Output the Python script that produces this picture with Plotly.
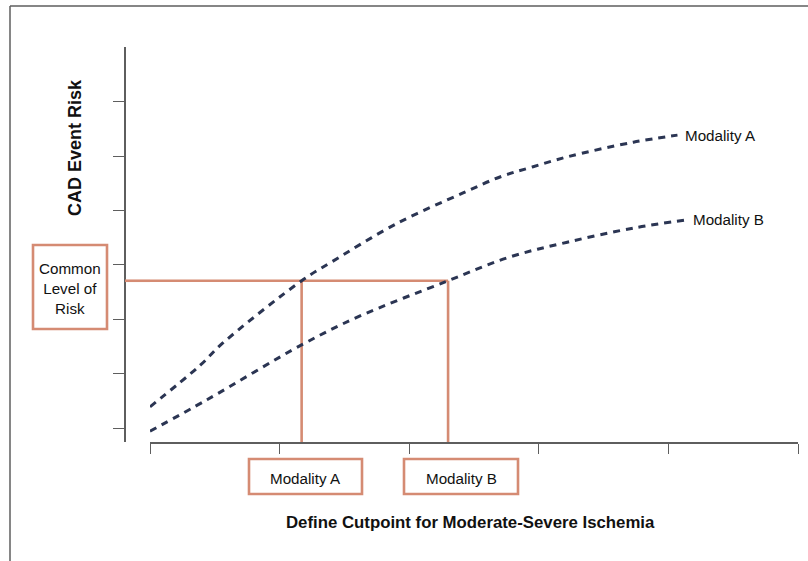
import plotly.graph_objects as go

# ---- data ----
x_a = [0.0, 0.39, 0.56, 1.17, 1.39, 1.91, 2.42, 2.70, 2.93, 3.22, 3.73, 4.07]
risk_a = [0.39, 1.16, 1.56, 2.71, 3.04, 3.77, 4.33, 4.62, 4.79, 4.99, 5.26, 5.39]
x_b = [0.0, 0.44, 1.17, 1.60, 2.30, 2.78, 3.22, 3.73, 4.14]
risk_b = [-0.06, 0.52, 1.53, 2.04, 2.71, 3.15, 3.42, 3.68, 3.83]
common_risk = 2.71
cut_a = 1.17
cut_b = 2.30
x_ticks = [0, 1, 2, 3, 4, 5]
y_ticks = [0, 1, 2, 3, 4, 5, 6]
series_names = ["Modality A", "Modality B"]

# ---- layout geometry (pixels) ----
W, H = 808, 561
L, R, T, B = 125, 798, 47, 442
PW, PH = R - L, B - T
X_DOMAIN0 = (150 - L) / PW
Y_MIN, Y_MAX = -0.2577, 7.012

def px(p):
    return (p - L) / PW

def py(p):
    return (B - p) / PH

NAVY = "#2b3553"
ORANGE = "#d58b73"
GRAY = "#5e5e5e"
FONT = "Liberation Sans, Arial, Helvetica, sans-serif"
LBL = 15.2

fig = go.Figure()

# cutpoint guide lines (under the curves)
fig.add_trace(go.Scatter(
    x=[0, cut_b, None, cut_a, cut_a, None, cut_b, cut_b],
    y=[common_risk, common_risk, None, common_risk, Y_MIN, None, common_risk, Y_MIN],
    mode="lines", line=dict(color=ORANGE, width=2.6), hoverinfo="skip", showlegend=False))

fig.add_trace(go.Scatter(x=x_a, y=risk_a, mode="lines", name=series_names[0],
                         line=dict(color=NAVY, width=3, dash="7px,6px", shape="spline"),
                         showlegend=False))
fig.add_trace(go.Scatter(x=x_b, y=risk_b, mode="lines", name=series_names[1],
                         line=dict(color=NAVY, width=3, dash="7px,6px", shape="spline"),
                         showlegend=False))

shapes = []
# the part of the common-risk line between the y axis and the x axis start
shapes.append(dict(type="line", xref="paper", yref="y", x0=0, x1=X_DOMAIN0,
                   y0=common_risk, y1=common_risk, line=dict(color=ORANGE, width=2.6)))
# outer frame
shapes.append(dict(type="line", xref="paper", yref="paper", x0=px(10), x1=px(10),
                   y0=py(6), y1=py(570), line=dict(color=GRAY, width=1.5)))
shapes.append(dict(type="line", xref="paper", yref="paper", x0=px(10), x1=px(815),
                   y0=py(6), y1=py(6), line=dict(color=GRAY, width=1.5)))
# label boxes
for (x0, x1, y0, y1) in [(33, 107, 245, 329), (249, 362, 459, 494), (404, 518, 459, 494)]:
    shapes.append(dict(type="rect", xref="paper", yref="paper", x0=px(x0), x1=px(x1),
                       y0=py(y1), y1=py(y0), line=dict(color=ORANGE, width=2.6),
                       fillcolor="rgba(0,0,0,0)"))

annotations = [
    dict(text="Common<br>Level of<br>Risk", x=px(70), y=py(288), xref="paper", yref="paper",
         showarrow=False, xanchor="center", yanchor="middle",
         font=dict(family=FONT, size=LBL, color="#111")),
    dict(text=series_names[0], x=px(305.5), y=py(478), xref="paper", yref="paper",
         showarrow=False, xanchor="center", yanchor="middle",
         font=dict(family=FONT, size=LBL, color="#111")),
    dict(text=series_names[1], x=px(461), y=py(478), xref="paper", yref="paper",
         showarrow=False, xanchor="center", yanchor="middle",
         font=dict(family=FONT, size=LBL, color="#111")),
    dict(text=series_names[0], x=x_a[-1], y=risk_a[-1], xref="x", yref="y",
         showarrow=False, xanchor="left", yanchor="middle", xshift=6,
         font=dict(family=FONT, size=LBL, color="#111")),
    dict(text=series_names[1], x=x_b[-1], y=risk_b[-1], xref="x", yref="y",
         showarrow=False, xanchor="left", yanchor="middle", xshift=4,
         font=dict(family=FONT, size=LBL, color="#111")),
    dict(text="<b>Define Cutpoint for Moderate-Severe Ischemia</b>", x=px(471), y=py(522),
         xref="paper", yref="paper", showarrow=False, xanchor="center", yanchor="middle",
         font=dict(family=FONT, size=16.8, color="#111")),
    dict(text="<b>CAD Event Risk</b>", x=px(75), y=py(148), xref="paper", yref="paper",
         showarrow=False, xanchor="center", yanchor="middle", textangle=-90,
         font=dict(family=FONT, size=18, color="#111")),
]

fig.update_layout(
    width=W, height=H,
    margin=dict(l=L, r=W - R, t=T, b=H - B, pad=0),
    paper_bgcolor="white", plot_bgcolor="white",
    showlegend=False,
    shapes=shapes, annotations=annotations,
    xaxis=dict(domain=[X_DOMAIN0, 1], range=[0, 5], tickvals=x_ticks, showticklabels=False,
               ticks="outside", ticklen=10, tickwidth=1.3, tickcolor=GRAY,
               showline=True, linecolor=GRAY, linewidth=1.5, showgrid=False, zeroline=False,
               fixedrange=True),
    yaxis=dict(anchor="free", position=0, range=[Y_MIN, Y_MAX], tickvals=y_ticks,
               showticklabels=False, ticks="outside", ticklen=11, tickwidth=1.3,
               tickcolor=GRAY, showline=True, linecolor=GRAY, linewidth=1.5,
               showgrid=False, zeroline=False, fixedrange=True),
)

fig.write_html("out.html", config={"displayModeBar": False},
               post_script="document.body.style.margin='0';document.body.style.overflow='hidden';")
